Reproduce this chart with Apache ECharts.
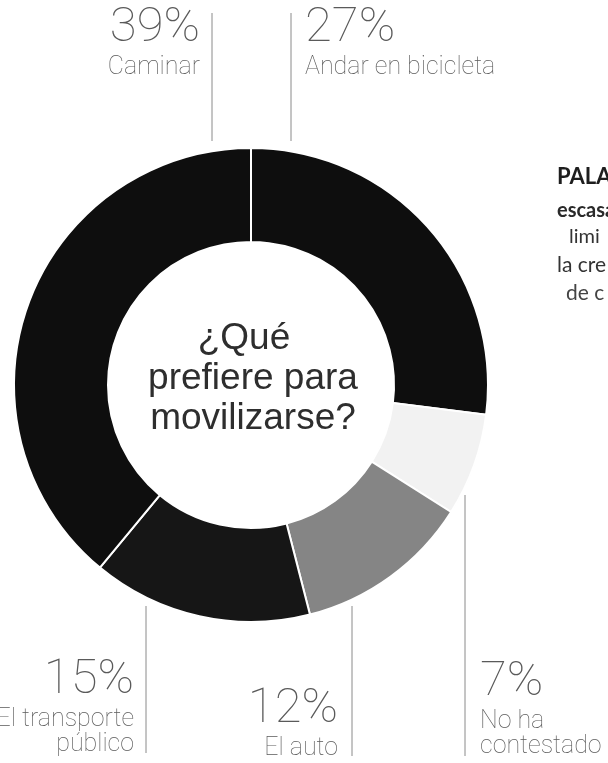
<!DOCTYPE html>
<html>
<head>
<meta charset="utf-8">
<script src="https://cdn.jsdelivr.net/npm/echarts@6/dist/echarts.min.js"></script>
<style>
  html, body { margin: 0; padding: 0; background: #fff; }
  #chart { width: 608px; height: 763px; }
</style>
</head>
<body>
<div id="chart"></div>
<script>
// clockwise from 12 o'clock
const categories = ["Andar en bicicleta", "No ha\ncontestado", "El auto", "El transporte\npúblico", "Caminar"];
const shares = [27, 7, 12, 15, 39];
const centerLines = ["¿Qué", "prefiere para", "movilizarse?"];
const sideText = ["PALA", "escasa", "limi", "la cre", "de c"];

const sliceColors = ["#0e0e0e", "#f2f2f2", "#858585", "#161616", "#0e0e0e"];

// where each label sits, and its vertical guide line
const labelPlace = [
    { x: 305, y: 3, align: "left", v: "top", line: [[291, 13], [291, 141]] },
    { x: 480, y: 759, align: "left", v: "bottom", line: [[465, 495], [465, 756]] },
    { x: 338, y: 761, align: "right", v: "bottom", line: [[352, 606], [352, 756]] },
    { x: 134, y: 757, align: "right", v: "bottom", line: [[146, 606], [146, 753]] },
    { x: 200, y: 3, align: "right", v: "top", line: [[212, 13], [212, 141]] },
];

const chart = echarts.init(document.getElementById("chart"));

let pieData = categories.map((name, i) => ({
    name: name,
    value: shares[i],
    itemStyle: { color: sliceColors[i] },
}));

let centerStyle = {
    fontFamily: "Liberation Sans",
    fontSize: 37,
    lineHeight: 40,
    fill: "#2e2e2e",
    align: "center",
    verticalAlign: "middle",
};

let option = {
    backgroundColor: "#fff",
    animation: false,
    series: [
        {
            type: "pie",
            center: [251, 385],
            radius: [143, 237],
            startAngle: 90,
            clockwise: true,
            avoidLabelOverlap: false,
            itemStyle: { borderColor: "#fff", borderWidth: 2 },
            label: {
                show: true,
                position: "outside",
                formatter: "{p|{c}%}\n{n|{b}}",
                rich: {
                    p: {
                        fontFamily: "Roboto",
                        fontWeight: 100,
                        fontSize: 49,
                        lineHeight: 52,
                        color: "#5a5a5a",
                    },
                    n: {
                        fontFamily: "Roboto",
                        fontWeight: 100,
                        fontSize: 25,
                        lineHeight: 25,
                        color: "#5a5a5a",
                    },
                },
            },
            labelLine: {
                show: true,
                smooth: false,
                lineStyle: { color: "#8a8a8a", width: 1 },
            },
            labelLayout: function (params) {
                let p = labelPlace[params.dataIndex];
                return {
                    x: p.x,
                    y: p.y,
                    align: p.align,
                    verticalAlign: p.v,
                    labelLinePoints: p.line,
                };
            },
            emphasis: { disabled: true },
            data: pieData,
        },
    ],
    graphic: [
        {
            type: "text",
            x: 244,
            y: 339,
            style: Object.assign({ text: centerLines[0] }, centerStyle),
        },
        {
            type: "text",
            x: 253,
            y: 399,
            style: Object.assign({ text: centerLines.slice(1).join("\n") }, centerStyle),
        },
        {
            type: "text",
            x: 557,
            y: 188,
            style: { text: sideText[0], fontFamily: "Lato", fontWeight: "bold", fontSize: 22, fill: "#1e1e1e", verticalAlign: "bottom" },
        },
        {
            type: "text",
            x: 557,
            y: 221,
            style: { text: sideText[1], fontFamily: "Lato", fontWeight: "bold", fontSize: 20, fill: "#2a2a2a", verticalAlign: "bottom" },
        },
        {
            type: "text",
            x: 569,
            y: 247,
            style: { text: sideText[2], fontFamily: "Lato", fontSize: 20, fill: "#333", verticalAlign: "bottom" },
        },
        {
            type: "text",
            x: 557,
            y: 276,
            style: { text: sideText[3], fontFamily: "Lato", fontSize: 21, fill: "#333", verticalAlign: "bottom" },
        },
        {
            type: "text",
            x: 566,
            y: 304,
            style: { text: sideText[4], fontFamily: "Lato", fontSize: 21, fill: "#444", verticalAlign: "bottom" },
        },
    ],
};

chart.setOption(option);

window.addEventListener("resize", function () {
    chart.resize();
});
</script>
</body>
</html>
